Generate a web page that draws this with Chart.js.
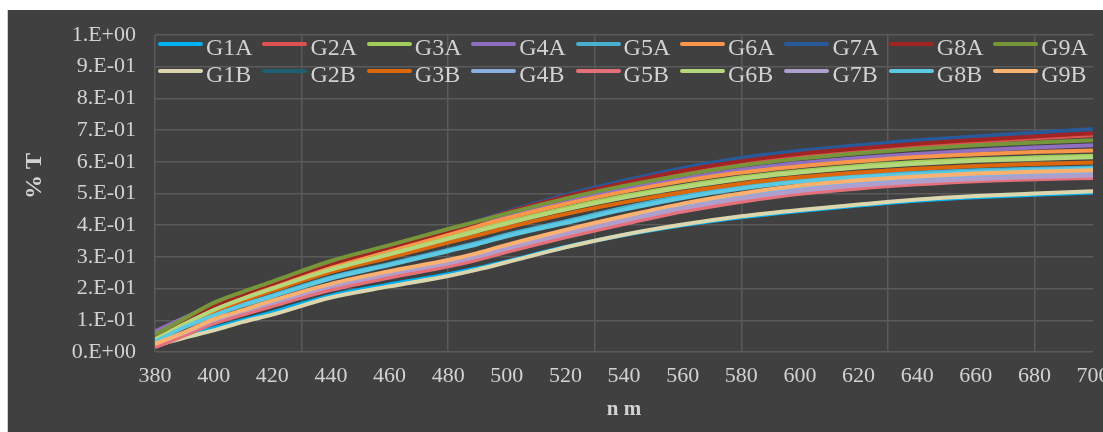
<!DOCTYPE html>
<html>
<head>
<meta charset="utf-8">
<script src="https://cdn.jsdelivr.net/npm/chart.js@4.4.1/dist/chart.umd.min.js"></script>
<style>
  html, body { margin: 0; padding: 0; background: #ffffff; }
  #wrap { position: relative; width: 1103px; height: 432px; overflow: hidden; }
  #c { position: absolute; left: 0; top: 0; }
  #legend { position: absolute; left: 0; top: 0; width: 1103px; height: 100px; pointer-events: none; }
  .lg-line { position: absolute; width: 45px; height: 4px; border-radius: 2px; }
  .lg-text { position: absolute; font-family: "Liberation Serif", "Times New Roman", serif; font-size: 24px; line-height: 24px; color: #d2d2d2; white-space: nowrap; }
</style>
</head>
<body>
<div id="wrap">
  <canvas id="c" width="1103" height="432"></canvas>
  <div id="legend"></div>
</div>
<script>
// ---------- data ----------
const wavelengths = [380,390,400,410,420,440,460,480,490,500,520,540,560,580,600,620,640,660,680,700];

const seriesNames = ['G1A','G2A','G3A','G4A','G5A','G6A','G7A','G8A','G9A',
                     'G1B','G2B','G3B','G4B','G5B','G6B','G7B','G8B','G9B'];

const G1A = [0.025,0.05,0.075,0.1,0.125,0.178,0.213,0.245,0.264,0.286,0.331,0.369,0.4,0.425,0.445,0.462,0.477,0.488,0.496,0.503];
const G2A = [0.045,0.095,0.142,0.18,0.212,0.275,0.327,0.378,0.405,0.435,0.486,0.529,0.567,0.597,0.619,0.636,0.651,0.663,0.674,0.684];
const G3A = [0.045,0.09,0.135,0.172,0.203,0.265,0.313,0.362,0.386,0.41,0.454,0.492,0.524,0.551,0.571,0.587,0.599,0.608,0.614,0.619];
const G4A = [0.065,0.108,0.15,0.185,0.215,0.278,0.328,0.378,0.402,0.428,0.474,0.514,0.547,0.575,0.596,0.612,0.625,0.636,0.645,0.652];
const G5A = [0.035,0.08,0.118,0.15,0.178,0.235,0.278,0.322,0.345,0.37,0.412,0.455,0.492,0.522,0.543,0.557,0.566,0.573,0.578,0.582];
const G6A = [0.042,0.092,0.14,0.178,0.21,0.272,0.322,0.372,0.397,0.422,0.467,0.506,0.539,0.566,0.586,0.602,0.615,0.624,0.631,0.636];
const G7A = [0.05,0.1,0.148,0.185,0.218,0.28,0.332,0.385,0.413,0.443,0.495,0.54,0.58,0.612,0.635,0.652,0.668,0.68,0.692,0.703];
const G8A = [0.048,0.098,0.145,0.182,0.215,0.278,0.33,0.382,0.41,0.44,0.49,0.533,0.572,0.602,0.625,0.642,0.657,0.669,0.68,0.69];
const G9A = [0.055,0.105,0.155,0.19,0.222,0.287,0.337,0.388,0.412,0.437,0.484,0.524,0.558,0.588,0.61,0.627,0.641,0.652,0.661,0.668];
const G1B = [0.02,0.045,0.068,0.095,0.118,0.172,0.207,0.24,0.26,0.283,0.33,0.37,0.402,0.428,0.448,0.465,0.481,0.492,0.5,0.507];
const G2B = [0.022,0.055,0.092,0.12,0.148,0.198,0.238,0.272,0.294,0.321,0.369,0.413,0.453,0.485,0.51,0.527,0.54,0.549,0.555,0.56];
const G3B = [0.04,0.085,0.128,0.162,0.193,0.252,0.298,0.345,0.368,0.392,0.435,0.472,0.504,0.531,0.551,0.566,0.578,0.587,0.593,0.598];
const G4B = [0.022,0.058,0.098,0.126,0.155,0.205,0.245,0.28,0.302,0.328,0.376,0.42,0.46,0.492,0.517,0.534,0.547,0.556,0.562,0.566];
const G5B = [0.015,0.052,0.09,0.118,0.145,0.196,0.235,0.27,0.291,0.316,0.362,0.404,0.443,0.474,0.499,0.516,0.529,0.539,0.545,0.549];
const G6B = [0.04,0.088,0.132,0.168,0.2,0.26,0.308,0.357,0.381,0.405,0.449,0.487,0.519,0.546,0.566,0.582,0.594,0.603,0.609,0.614];
const G7B = [0.028,0.06,0.1,0.128,0.155,0.207,0.246,0.28,0.301,0.326,0.372,0.414,0.453,0.484,0.508,0.525,0.537,0.546,0.552,0.557];
const G8B = [0.032,0.078,0.115,0.147,0.175,0.232,0.274,0.318,0.34,0.365,0.407,0.449,0.486,0.516,0.537,0.551,0.561,0.568,0.574,0.578];
const G9B = [0.025,0.062,0.103,0.132,0.162,0.215,0.255,0.29,0.312,0.338,0.385,0.428,0.468,0.5,0.525,0.542,0.554,0.563,0.569,0.573];

const seriesValues = [G1A,G2A,G3A,G4A,G5A,G6A,G7A,G8A,G9A,G1B,G2B,G3B,G4B,G5B,G6B,G7B,G8B,G9B];

const seriesColors = ['#00b0f0','#e0524f','#a3cd5a','#8f6fc0','#4bb0d0','#f9964a','#285a9a','#a02424','#77953a',
                      '#dcd6ae','#1f5f72','#dd680c','#8aaee0','#e6707a','#b5d77c','#b09fcc','#5cc9e3','#fbb16f'];

const xTickValues = [380,390,400,410,420,430,440,450,460,470,480,490,500,510,520,530,540,550,560,570,580,590,600,610,620,630,640,650,660,670,680,690,700];
const xTickLabels = ['380','','400','','420','','440','','460','','480','','500','','520','','540','','560','','580','','600','','620','','640','','660','','680','','700'];
const yTickValues = [0,0.1,0.2,0.3,0.4,0.5,0.6,0.7,0.8,0.9,1.0];
const yTickLabels = ['0.E+00','1.E-01','2.E-01','3.E-01','4.E-01','5.E-01','6.E-01','7.E-01','8.E-01','9.E-01','1.E+00'];
const xGridValues = [380,430,480,530,580,630,680];

const yTitle = '% T';
const xTitle = 'n m';

// ---------- style ----------
const BG = '#404040';
const GRID = '#5a5a5a';
const TXT = '#d2d2d2';
const FONT = '"Liberation Serif", "Times New Roman", serif';

const datasets = seriesNames.map((name, i) => ({
  label: name,
  data: wavelengths.map((w, k) => ({ x: w, y: seriesValues[i][k] })),
  borderColor: seriesColors[i],
  backgroundColor: seriesColors[i],
  borderWidth: 4,
  pointRadius: 0,
  cubicInterpolationMode: 'monotone',
  fill: false,
  order: seriesNames.length - i
}));

const bgPlugin = {
  id: 'bg',
  beforeDraw(chart) {
    const ctx = chart.ctx;
    ctx.save();
    ctx.fillStyle = '#ffffff';
    ctx.fillRect(0, 0, chart.width, chart.height);
    ctx.fillStyle = BG;
    ctx.fillRect(8, 10, chart.width - 8, chart.height - 10);
    ctx.fillStyle = '#cfcfcf';
    ctx.fillRect(7, 10, 1, chart.height - 10);
    ctx.restore();
  },
  afterDraw(chart) {
    const ctx = chart.ctx;
    ctx.save();
    ctx.fillStyle = TXT;
    ctx.textAlign = 'center';
    ctx.textBaseline = 'middle';
    ctx.font = 'bold 24px ' + FONT;
    ctx.translate(35, 176);
    ctx.rotate(-Math.PI / 2);
    ctx.fillText(yTitle, 0, 0);
    ctx.restore();
    ctx.save();
    ctx.fillStyle = TXT;
    ctx.textAlign = 'center';
    ctx.textBaseline = 'middle';
    ctx.font = 'bold 21px ' + FONT;
    const a = chart.chartArea;
    ctx.fillText(xTitle, (a.left + a.right) / 2, 410);
    ctx.restore();
  }
};

new Chart(document.getElementById('c'), {
  type: 'line',
  data: { datasets },
  plugins: [bgPlugin],
  options: {
    responsive: false,
    animation: false,
    devicePixelRatio: 1,
    layout: { padding: { left: 0, right: 10, top: 35, bottom: 0 } },
    plugins: { legend: { display: false }, tooltip: { enabled: false } },
    scales: {
      x: {
        type: 'linear',
        min: 380, max: 700,
        afterBuildTicks: s => { s.ticks = xTickValues.map(v => ({ value: v })); },
        afterFit: s => { s.height = 80; s.paddingLeft = 0; s.paddingRight = 0; },
        ticks: {
          autoSkip: false, maxRotation: 0, minRotation: 0,
          padding: 11,
          color: TXT,
          font: { family: FONT, size: 22 },
          callback: (v, i) => xTickLabels[i]
        },
        grid: {
          drawTicks: false,
          lineWidth: 1.5,
          color: c => (c.tick && xGridValues.includes(c.tick.value)) ? GRID : 'rgba(0,0,0,0)'
        },
        border: { display: false }
      },
      y: {
        min: 0, max: 1,
        afterBuildTicks: s => { s.ticks = yTickValues.map(v => ({ value: v })); },
        afterFit: s => { s.width = 155; s.paddingTop = 0; s.paddingBottom = 0; },
        ticks: {
          padding: 19,
          color: TXT,
          font: { family: FONT, size: 22 },
          callback: (v, i) => yTickLabels[i]
        },
        grid: { drawTicks: false, lineWidth: 1.5, color: GRID },
        border: { display: false }
      }
    }
  }
});

// ---------- HTML legend ----------
const legend = document.getElementById('legend');
seriesNames.forEach((name, i) => {
  const row = Math.floor(i / 9), col = i % 9;
  const left = 158 + col * 104.4;
  const lineTop = 42 + row * 26.5;
  const ln = document.createElement('span');
  ln.className = 'lg-line';
  ln.style.left = left + 'px';
  ln.style.top = lineTop + 'px';
  ln.style.background = seriesColors[i];
  legend.appendChild(ln);
  const tx = document.createElement('span');
  tx.className = 'lg-text';
  tx.style.left = (left + 48) + 'px';
  tx.style.top = (35 + row * 26.5) + 'px';
  tx.textContent = name;
  legend.appendChild(tx);
});
</script>
</body>
</html>
